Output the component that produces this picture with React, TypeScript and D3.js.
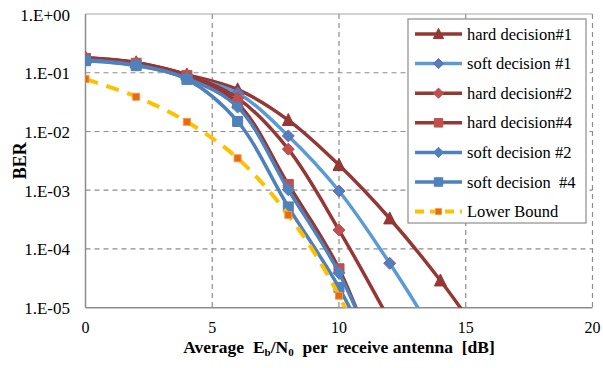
import React from "react";
import * as d3 from "d3";

const snr = [0, 2, 4, 6, 8, 10, 12, 14, 16];
const hard1 = [0.18, 0.15, 0.093, 0.052, 0.0156, 0.00268, 3.3e-4, 2.9e-5, 1.8e-6];
const soft1 = [0.165, 0.138, 0.085, 0.045, 0.0084, 9.7e-4, 5.7e-5, 2.4e-6];
const hard2 = [0.18, 0.148, 0.092, 0.037, 0.005, 2.1e-4, 6e-6];
const hard4 = [0.175, 0.145, 0.09, 0.03, 1.25e-3, 4.6e-5, 3e-7];
const soft2 = [0.165, 0.135, 0.08, 0.026, 1.02e-3, 3.9e-5, 4e-7];
const soft4 = [0.16, 0.132, 0.077, 0.0148, 5.2e-4, 2.2e-5, 3.9e-7];
const lower = [0.078, 0.039, 0.0146, 0.0035, 3.8e-4, 1.6e-5, 1.6e-7];

const xTicks = [0, 5, 10, 15, 20];
const yTicks = [1, 1e-1, 1e-2, 1e-3, 1e-4, 1e-5];
const yTickLabels = ["1.E+00", "1.E-01", "1.E-02", "1.E-03", "1.E-04", "1.E-05"];

type Marker = "triangle" | "diamond" | "square";
interface Series {
  name: string;
  values: number[];
  line: string;
  marker: Marker;
  mFill: string;
  mStroke: string;
  mSize: number;
  dashed?: boolean;
  width: number;
}

const series: Series[] = [
  { name: "hard decision#1", values: hard1, line: "#953735", marker: "triangle", mFill: "#953735", mStroke: "#953735", mSize: 12, width: 3.5 },
  { name: "soft decision #1", values: soft1, line: "#5b9bd5", marker: "diamond", mFill: "#4f81bd", mStroke: "#7f5fb0", mSize: 12, width: 3.5 },
  { name: "hard decision#2", values: hard2, line: "#953735", marker: "diamond", mFill: "#c0504d", mStroke: "#c0504d", mSize: 12, width: 3.5 },
  { name: "hard decision#4", values: hard4, line: "#953735", marker: "square", mFill: "#c0504d", mStroke: "#c0504d", mSize: 10, width: 3.5 },
  { name: "soft decision #2", values: soft2, line: "#4f81bd", marker: "diamond", mFill: "#4f81bd", mStroke: "#4f81bd", mSize: 12, width: 3.5 },
  { name: "soft decision  #4", values: soft4, line: "#4f81bd", marker: "square", mFill: "#4f81bd", mStroke: "#4f81bd", mSize: 10, width: 3.5 },
  { name: "Lower Bound", values: lower, line: "#ffc000", marker: "square", mFill: "#e46c0a", mStroke: "#f79646", mSize: 7, dashed: true, width: 4 },
];

const W = 603, H = 368;
const L = 85.5, R = 592.5, T = 14, B = 307.7;
const FONT = "'Times New Roman', 'Liberation Serif', Tinos, 'DejaVu Serif', serif";

function markerPath(m: Marker, s: number): string {
  const h = s / 2;
  if (m === "triangle") return `M0,${-h * 1.1}L${h},${h * 0.9}L${-h},${h * 0.9}Z`;
  if (m === "diamond") return `M0,${-h}L${h},0L0,${h}L${-h},0Z`;
  return `M${-h},${-h}L${h},${-h}L${h},${h}L${-h},${h}Z`;
}

export default function App() {
  const x = d3.scaleLinear().domain([0, 20]).range([L, R]);
  const y = d3.scaleLog().domain([1e-5, 1]).range([B, T]);
  const line = d3
    .line<[number, number]>()
    .x((d) => x(d[0]))
    .y((d) => y(d[1]))
    .curve(d3.curveCatmullRom.alpha(0.5));

  const legX = 408, legY = 19, legW = 178, legH = 204;
  const rowY = (i: number) => 34 + i * 29.6;
  const ts = { fontFamily: FONT, fill: "#000" } as React.CSSProperties;

  return (
    <svg width={W} height={H} style={{ position: "absolute", left: 0, top: 0, background: "#fff", fontFamily: FONT }}>
      <defs>
        <clipPath id="plot">
          <rect x={L} y={T} width={R - L} height={B - T} />
        </clipPath>
      </defs>
      <rect width={W} height={H} fill="#fff" />
      {/* gridlines */}
      {yTicks.slice(1, 5).map((t) => (
        <line key={"gy" + t} x1={L} x2={R} y1={y(t)} y2={y(t)} stroke="#8c8c8c" strokeWidth={1.2} strokeDasharray="5,4" />
      ))}
      {xTicks.slice(1).map((t) => (
        <line key={"gx" + t} x1={x(t)} x2={x(t)} y1={T} y2={B} stroke="#8c8c8c" strokeWidth={1.2} strokeDasharray="5,4" />
      ))}
      <line x1={L} x2={R} y1={T} y2={T} stroke="#a6a6a6" strokeWidth={1.2} />
      {/* axes */}
      <line x1={L} x2={L} y1={T} y2={B} stroke="#8c8c8c" strokeWidth={1.5} />
      <line x1={L} x2={R} y1={B} y2={B} stroke="#8c8c8c" strokeWidth={1.5} />

      {/* series */}
      <g clipPath="url(#plot)">
        {series.map((s) => {
          const pts = s.values.map((v, i) => [snr[i], v] as [number, number]);
          return (
            <g key={s.name}>
              <path d={line(pts) || ""} fill="none" stroke={s.line} strokeWidth={s.width}
                strokeDasharray={s.dashed ? "13,9" : undefined} strokeLinejoin="round" />
              {pts.map((p, i) => (
                <path key={i} d={markerPath(s.marker, s.mSize)} transform={`translate(${x(p[0])},${y(p[1])})`}
                  fill={s.mFill} stroke={s.mStroke} strokeWidth={1} />
              ))}
            </g>
          );
        })}
      </g>

      {/* y tick labels */}
      {yTicks.map((t, i) => (
        <text key={"yt" + t} x={70} y={y(t) + 6.5} textAnchor="end" style={{ ...ts, fontSize: 17 }}>
          {yTickLabels[i]}
        </text>
      ))}
      {/* x tick labels */}
      {xTicks.map((t) => (
        <text key={"xt" + t} x={x(t)} y={332.5} textAnchor="middle" style={{ ...ts, fontSize: 16 }}>
          {t}
        </text>
      ))}
      {/* axis titles */}
      <text transform={`translate(26,${(T + B) / 2}) rotate(-90)`} textAnchor="middle" style={{ ...ts, fontSize: 18, fontWeight: "bold" }}>
        BER
      </text>
      <text x={(L + R) / 2} y={353} textAnchor="middle" style={{ ...ts, fontSize: 17.5, fontWeight: "bold", whiteSpace: "pre" }}>
        Average  E<tspan style={{ fontSize: 11 }} dy={3}>b</tspan><tspan dy={-3}>/N</tspan><tspan style={{ fontSize: 11 }} dy={3}>0</tspan><tspan dy={-3}>  per  receive antenna  [dB]</tspan>
      </text>

      {/* legend */}
      <rect x={legX} y={legY} width={legW} height={legH} fill="#fff" stroke="#8c8c8c" strokeWidth={1.2} />
      {series.map((s, i) => {
        const cy = rowY(i);
        return (
          <g key={"lg" + s.name}>
            <line x1={415} x2={462} y1={cy} y2={cy} stroke={s.line} strokeWidth={s.width}
              strokeDasharray={s.dashed ? "9,6" : undefined} />
            <path d={markerPath(s.marker, s.mSize * 0.85)} transform={`translate(438.5,${cy})`} fill={s.mFill} stroke={s.mStroke} strokeWidth={1} />
            <text x={467} y={cy + 5.5} style={{ ...ts, fontSize: 16.5, whiteSpace: "pre" }}>
              {s.name}
            </text>
          </g>
        );
      })}
    </svg>
  );
}
